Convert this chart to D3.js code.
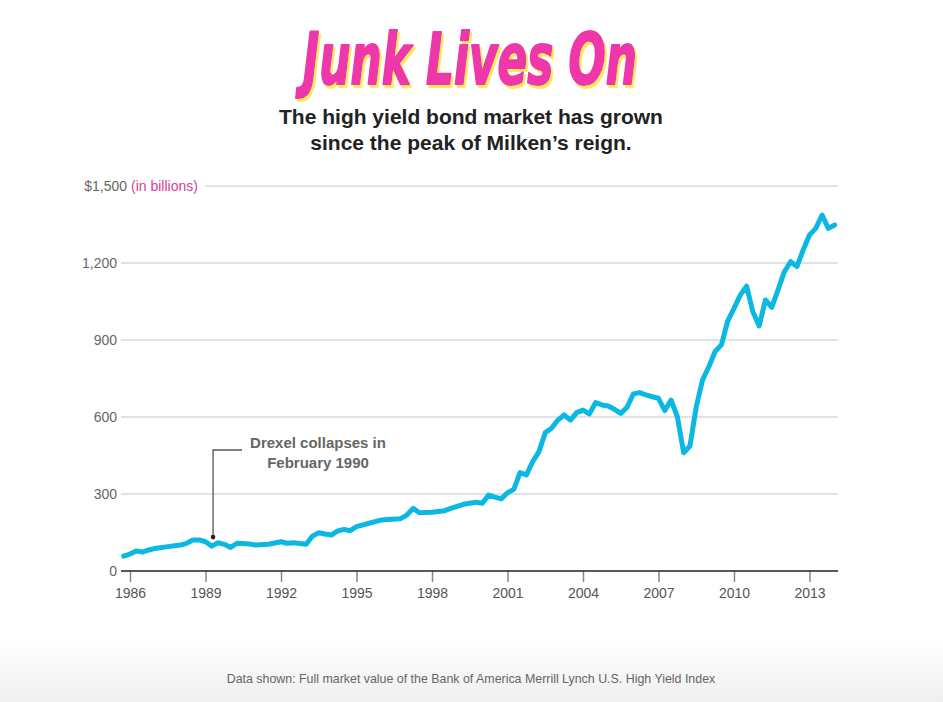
<!DOCTYPE html>
<html>
<head>
<meta charset="utf-8">
<script src="https://cdn.jsdelivr.net/npm/d3@7"></script>
<style>
  html, body { margin: 0; padding: 0; background: #fff; }
  svg { display: block; }
</style>
</head>
<body>
<svg id="chart" width="943" height="702"></svg>
<script>
// ---- Data (decimal year, market value in $ billions) ----
const dates = [
  1985.75, 1986.0, 1986.25, 1986.5, 1986.75, 1987.0, 1987.5, 1988.0, 1988.25, 1988.5,
  1988.75, 1989.0, 1989.25, 1989.5, 1989.75, 1990.0, 1990.25, 1990.75, 1991.0, 1991.5,
  1992.0, 1992.25, 1992.5, 1993.0, 1993.25, 1993.5, 1993.75, 1994.0, 1994.25, 1994.5,
  1994.75, 1995.0, 1995.5, 1996.0, 1996.25, 1996.75, 1997.0, 1997.25, 1997.5, 1998.0,
  1998.5, 1998.75, 1999.25, 1999.5, 1999.75, 2000.0, 2000.25, 2000.5, 2000.75, 2001.0,
  2001.25, 2001.5, 2001.75, 2002.0, 2002.25, 2002.5, 2002.75, 2003.0, 2003.25, 2003.5,
  2003.75, 2004.0, 2004.25, 2004.5, 2004.75, 2005.0, 2005.25, 2005.5, 2005.75, 2006.0,
  2006.25, 2006.5, 2006.75, 2007.0, 2007.25, 2007.5, 2007.75, 2008.0, 2008.25, 2008.5,
  2008.75, 2009.0, 2009.25, 2009.5, 2009.75, 2010.0, 2010.25, 2010.5, 2010.75, 2011.0,
  2011.25, 2011.5, 2011.75, 2012.0, 2012.25, 2012.5, 2012.75, 2013.0, 2013.25, 2013.5,
  2013.75, 2014.0
];
const values = [
  58, 66, 78, 74, 82, 88, 95, 101, 108, 121,
  121, 114, 97, 110, 104, 92, 108, 105, 101, 104,
  114, 108, 110, 104, 136, 149, 144, 140, 156, 162,
  157, 173, 186, 199, 201, 204, 218, 244, 227, 229,
  235, 244, 260, 264, 268, 264, 296, 288, 281, 305,
  318, 383, 374, 426, 465, 539, 556, 588, 608, 588,
  617, 627, 612, 656, 647, 643, 630, 614, 638, 690,
  695, 686, 679, 673, 625, 666, 601, 461, 487, 640,
  744, 796, 855, 881, 974, 1023, 1075, 1110, 1010, 955,
  1056, 1027, 1095, 1166, 1205, 1186, 1251, 1309, 1335, 1387,
  1335, 1348
];
const xTicks = [1986, 1989, 1992, 1995, 1998, 2001, 2004, 2007, 2010, 2013];
const yTicks = [0, 300, 600, 900, 1200, 1500];
const yTickLabels = ["0", "300", "600", "900", "1,200", "$1,500"];

const titleText = "Junk Lives On";
const subtitleLines = ["The high yield bond market has grown", "since the peak of Milken\u2019s reign."];
const unitText = "(in billions)";
const annotationLines = ["Drexel collapses in", "February 1990"];
const annotationPoint = { year: 1989.3, value: 132 };
const sourceText = "Data shown: Full market value of the Bank of America Merrill Lynch U.S. High Yield Index";

// ---- Layout ----
const W = 943, H = 702;
const svg = d3.select("#chart");
const font = "'Liberation Sans', Arial, sans-serif";

const x = d3.scaleLinear().domain([1986, 2013]).range([130, 809.5]);
const y = d3.scaleLinear().domain([0, 1500]).range([571, 186]);
const plotLeft = 121, plotRight = 838;

const defs = svg.append("defs");
// background gradient at bottom
const grad = defs.append("linearGradient").attr("id", "bg").attr("x1", 0).attr("x2", 0).attr("y1", 0).attr("y2", 1);
grad.append("stop").attr("offset", "0%").attr("stop-color", "#ffffff");
grad.append("stop").attr("offset", "100%").attr("stop-color", "#efefef");
// yellow drop shadow for title
const f = defs.append("filter").attr("id", "shadow").attr("x", "-5%").attr("y", "-10%").attr("width", "110%").attr("height", "130%");
f.append("feFlood").attr("flood-color", "#f8ec5c").attr("result", "yel");
f.append("feComposite").attr("in", "yel").attr("in2", "SourceAlpha").attr("operator", "in").attr("result", "shape");
f.append("feOffset").attr("in", "shape").attr("dx", 2).attr("dy", 3).attr("result", "off");
const fm = f.append("feMerge");
fm.append("feMergeNode").attr("in", "off");
fm.append("feMergeNode").attr("in", "SourceGraphic");

svg.append("rect").attr("width", W).attr("height", H).attr("fill", "#fff");
svg.append("rect").attr("x", 0).attr("y", 640).attr("width", W).attr("height", H - 640).attr("fill", "url(#bg)");

// Title
svg.append("text").attr("x", 470).attr("y", 84).attr("text-anchor", "middle")
  .attr("font-family", "'DejaVu Sans Condensed', 'Liberation Sans Narrow', sans-serif")
  .attr("font-weight", "bold").attr("font-style", "italic").attr("font-size", 72)
  .attr("fill", "#ee37aa").attr("stroke", "#ee37aa").attr("stroke-width", 2)
  .attr("stroke-linejoin", "round")
  .attr("textLength", 334).attr("lengthAdjust", "spacingAndGlyphs")
  .attr("filter", "url(#shadow)").text(titleText);

// Subtitle
svg.append("g").selectAll("text").data(subtitleLines).join("text")
  .attr("x", 471).attr("y", (d, i) => 124 + i * 26)
  .attr("text-anchor", "middle").attr("font-family", font).attr("font-weight", "bold")
  .attr("font-size", 21).attr("fill", "#222").text(d => d);

// Gridlines
svg.append("g").selectAll("line").data(yTicks.filter(d => d > 0)).join("line")
  .attr("x1", d => d === 1500 ? 205 : plotLeft).attr("x2", plotRight)
  .attr("y1", d => y(d)).attr("y2", d => y(d))
  .attr("stroke", "#d9d9d9").attr("stroke-width", 1.3);

// Y labels
svg.append("g").selectAll("text").data(yTicks).join("text")
  .attr("x", d => d === 1500 ? 127 : 117).attr("y", d => y(d) + 5)
  .attr("text-anchor", "end").attr("font-family", font).attr("font-size", 14)
  .attr("fill", "#666").text((d, i) => yTickLabels[i]);
svg.append("text").attr("x", 131).attr("y", y(1500) + 5)
  .attr("font-family", font).attr("font-size", 14).attr("font-weight", "normal")
  .attr("fill", "#d6409a").text(unitText);

// X axis
const xAxis = d3.axisBottom(x).tickValues(xTicks).tickFormat(d3.format("d")).tickSize(11).tickPadding(6);
const xg = svg.append("g").attr("transform", "translate(0,571)").call(xAxis);
xg.select(".domain").remove();
xg.selectAll(".tick line").attr("stroke", "#888").attr("stroke-width", 1.5);
xg.selectAll(".tick text").attr("font-family", font).attr("font-size", 14).attr("fill", "#555");
svg.append("line").attr("x1", plotLeft).attr("x2", plotRight).attr("y1", 571).attr("y2", 571)
  .attr("stroke", "#222").attr("stroke-width", 1.5);

// Line
const data = dates.map((d, i) => ({ year: d, value: values[i] }));
const line = d3.line().x(d => x(d.year)).y(d => y(d.value)).curve(d3.curveLinear);
svg.append("path").datum(data).attr("d", line)
  .attr("fill", "none").attr("stroke", "#0bb8e3").attr("stroke-width", 5)
  .attr("stroke-linejoin", "round").attr("stroke-linecap", "round");

// Annotation
const ax = x(annotationPoint.year), ay = y(annotationPoint.value);
svg.append("path")
  .attr("d", `M${ax},${ay} V450 H242`)
  .attr("fill", "none").attr("stroke", "#555").attr("stroke-width", 1.3);
svg.append("circle").attr("cx", ax).attr("cy", ay).attr("r", 2.3).attr("fill", "#222");
svg.append("g").selectAll("text").data(annotationLines).join("text")
  .attr("x", 318).attr("y", (d, i) => 448 + i * 20)
  .attr("text-anchor", "middle").attr("font-family", font).attr("font-weight", "bold")
  .attr("font-size", 15).attr("fill", "#666").text(d => d);

// Source
svg.append("text").attr("x", 471).attr("y", 683).attr("text-anchor", "middle")
  .attr("font-family", font).attr("font-size", 12.4).attr("fill", "#666").text(sourceText);
</script>
</body>
</html>
